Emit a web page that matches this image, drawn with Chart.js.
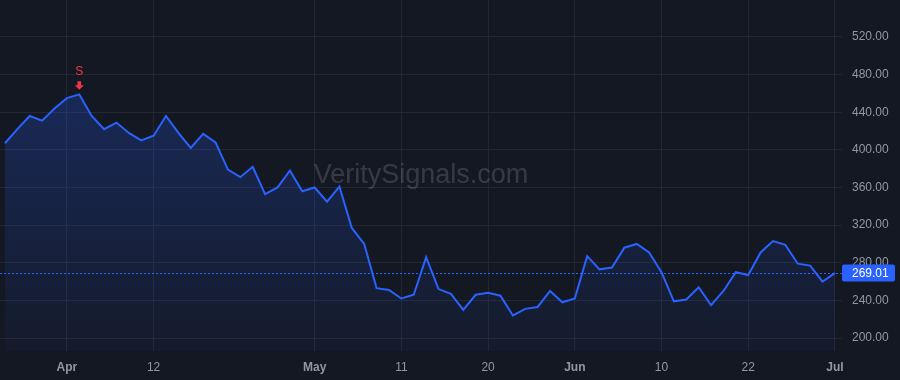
<!DOCTYPE html>
<html>
<head>
<meta charset="utf-8">
<script src="https://cdn.jsdelivr.net/npm/chart.js@4/dist/chart.umd.min.js"></script>
<style>
  html, body { margin: 0; padding: 0; background: #141823; }
  canvas { display: block; }
</style>
</head>
<body>
<canvas id="priceChart" width="900" height="380"></canvas>
<script>
// Daily closes, one per session
const closes = [
  407, 422, 436, 431, 444, 455, 459, 436, 422, 429,
  418, 410, 415, 436, 418, 402, 417, 408, 379, 371,
  382, 353, 360, 378, 356, 360, 345, 361, 317, 300,
  253, 251, 242, 246, 286, 252, 247, 230, 246, 248,
  245, 224, 231, 233, 250, 238, 242, 287, 273, 275,
  296, 300, 291, 270, 239, 241, 254, 235, 250, 270,
  267, 291, 303, 299, 279, 277, 260, 269.01
];

// x axis labels (session index -> label)
const xTickIndex = [5, 12, 25, 32, 39, 46, 53, 60, 67];
const xTickLabels = ["Apr", "12", "May", "11", "20", "Jun", "10", "22", "Jul"];
const monthLabels = ["Apr", "May", "Jun", "Jul"];

// y axis ticks
const yTicks = [200, 240, 280, 320, 360, 400, 440, 480, 520];

// sell signal
const signalIndex = [6];
const signalText = ["S"];

const lastPrice = closes[closes.length - 1];

const lineColor = "#2962ff";
const gridColor = "#232733";
const textColor = "#9397a1";
const bgColor = "#141823";

Chart.defaults.font.family = "'Liberation Sans', Arial, sans-serif";

// Background + watermark
const backdrop = {
  id: "backdrop",
  beforeDraw(chart) {
    const ctx = chart.ctx;
    ctx.save();
    ctx.fillStyle = bgColor;
    ctx.fillRect(0, 0, chart.width, chart.height);
    ctx.restore();
  },
  beforeDatasetsDraw(chart) {
    const ctx = chart.ctx;
    const a = chart.chartArea;
    ctx.save();
    ctx.font = "27px 'Liberation Sans', Arial, sans-serif";
    ctx.fillStyle = "rgba(255,255,255,0.15)";
    ctx.textAlign = "center";
    ctx.textBaseline = "alphabetic";
    ctx.fillText("VeritySignals.com", (a.left + a.right) / 2, a.top + 183);
    ctx.restore();
  }
};

// Signal arrows above points
const signals = {
  id: "signals",
  afterDatasetsDraw(chart) {
    const ctx = chart.ctx;
    const meta = chart.getDatasetMeta(0);
    ctx.save();
    signalIndex.forEach((idx, k) => {
      const p = meta.data[idx];
      const x = p.x, y = p.y;
      ctx.fillStyle = "#f23645";
      ctx.beginPath();
      ctx.moveTo(x - 1.8, y - 13);
      ctx.lineTo(x + 1.8, y - 13);
      ctx.lineTo(x + 1.8, y - 9);
      ctx.lineTo(x + 4.5, y - 9);
      ctx.lineTo(x, y - 4.5);
      ctx.lineTo(x - 4.5, y - 9);
      ctx.lineTo(x - 1.8, y - 9);
      ctx.closePath();
      ctx.fill();
      ctx.font = "12px 'Liberation Sans', Arial, sans-serif";
      ctx.textAlign = "center";
      ctx.textBaseline = "middle";
      ctx.fillText(signalText[k], x, y - 23);
    });
    ctx.restore();
  }
};

// Last price line + label
const lastPriceTag = {
  id: "lastPriceTag",
  afterDraw(chart) {
    const ctx = chart.ctx;
    const a = chart.chartArea;
    const y = Math.round(chart.scales.y.getPixelForValue(lastPrice)) + 0.5;
    ctx.save();
    ctx.strokeStyle = lineColor;
    ctx.lineWidth = 1;
    ctx.setLineDash([2, 2]);
    ctx.beginPath();
    ctx.moveTo(a.left, y);
    ctx.lineTo(a.right, y);
    ctx.stroke();
    ctx.setLineDash([]);
    ctx.fillStyle = lineColor;
    ctx.beginPath();
    ctx.roundRect(a.right, y - 9, 53, 17, 2);
    ctx.fill();
    ctx.fillStyle = "#ffffff";
    ctx.font = "12px 'Liberation Sans', Arial, sans-serif";
    ctx.textAlign = "left";
    ctx.textBaseline = "middle";
    ctx.fillText(lastPrice.toFixed(2), a.right + 10, y);
    ctx.restore();
  }
};

const ctx = document.getElementById("priceChart").getContext("2d");

new Chart(ctx, {
  type: "line",
  data: {
    datasets: [{
      data: closes.map((v, i) => ({ x: i, y: v })),
      borderColor: lineColor,
      borderWidth: 2,
      pointRadius: 0,
      tension: 0,
      fill: "start",
      backgroundColor: (c) => {
        const area = c.chart.chartArea;
        if (!area) return "rgba(41,98,255,0.15)";
        const g = c.chart.ctx.createLinearGradient(0, area.top + 60, 0, area.bottom);
        g.addColorStop(0, "rgba(41,98,255,0.26)");
        g.addColorStop(1, "rgba(41,98,255,0.04)");
        return g;
      }
    }]
  },
  options: {
    responsive: false,
    animation: false,
    layout: { padding: 0 },
    plugins: {
      legend: { display: false },
      tooltip: { enabled: false }
    },
    scales: {
      x: {
        type: "linear",
        min: -0.4,
        max: 67.57,
        grid: { color: gridColor, drawTicks: false },
        border: { display: false },
        afterBuildTicks: (scale) => {
          scale.ticks = xTickIndex.map(v => ({ value: v }));
        },
        afterFit: (scale) => {
          scale.height = 29;
          scale.paddingLeft = 0;
          scale.paddingRight = 0;
        },
        ticks: {
          autoSkip: false,
          maxRotation: 0,
          padding: 9,
          color: textColor,
          font: (c) => ({
            size: 12,
            weight: c.tick && monthLabels.includes(xTickLabels[xTickIndex.indexOf(c.tick.value)]) ? "bold" : "normal"
          }),
          callback: (v) => xTickLabels[xTickIndex.indexOf(v)]
        }
      },
      y: {
        position: "right",
        min: 186.2,
        max: 559.3,
        grid: { color: gridColor, drawTicks: false },
        border: { display: false },
        afterBuildTicks: (scale) => {
          scale.ticks = yTicks.map(v => ({ value: v }));
        },
        afterFit: (scale) => {
          scale.width = 58;
          scale.paddingTop = 0;
          scale.paddingBottom = 0;
        },
        ticks: {
          padding: 10,
          color: textColor,
          font: { size: 12 },
          callback: (v) => v.toFixed(2)
        }
      }
    }
  },
  plugins: [backdrop, signals, lastPriceTag]
});
</script>
</body>
</html>
